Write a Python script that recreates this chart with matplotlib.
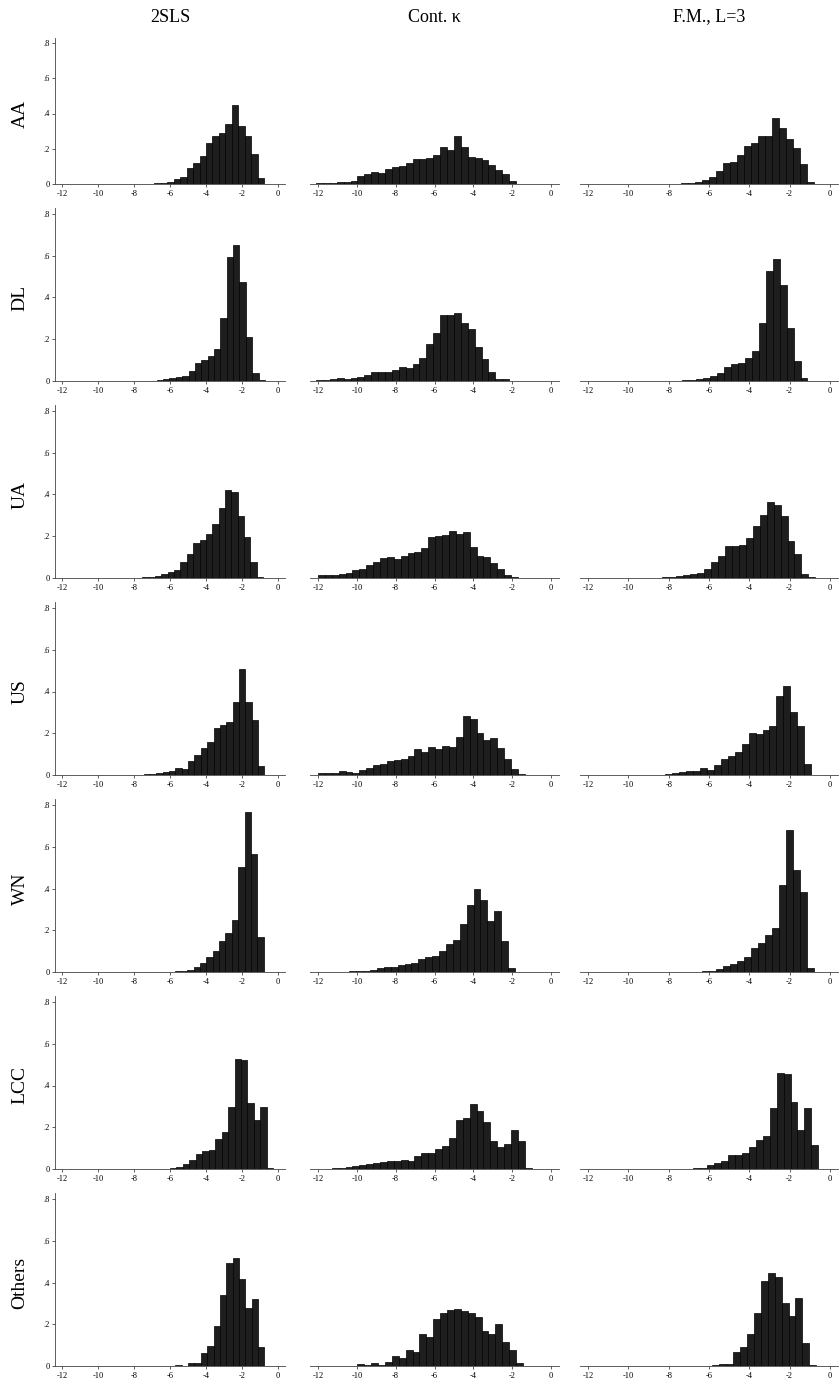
import matplotlib
matplotlib.use("Agg")
import matplotlib.pyplot as plt
import numpy as np

plt.rcParams["font.family"] = ["Liberation Serif", "DejaVu Serif"]

rows = ["AA", "DL", "UA", "US", "WN", "LCC", "Others"]
cols = ["2SLS", "Cont. \u03ba", "F.M., L=3"]

# bar heights (density), left to right, one list per panel
aa_2sls = [0.003, 0.005, 0.01, 0.03, 0.04, 0.09, 0.12, 0.16, 0.23, 0.27, 0.29, 0.34, 0.45, 0.33, 0.27, 0.17, 0.035]
aa_cont = [0.003, 0.005, 0.005, 0.01, 0.01, 0.015, 0.045, 0.055, 0.07, 0.065, 0.085, 0.095, 0.10, 0.12, 0.14,
           0.14, 0.15, 0.165, 0.21, 0.195, 0.27, 0.21, 0.155, 0.15, 0.135, 0.105, 0.08, 0.055, 0.015]
aa_fm = [0.001, 0.002, 0.003, 0.005, 0.01, 0.025, 0.04, 0.075, 0.12, 0.125, 0.165, 0.215, 0.23, 0.275, 0.27,
         0.375, 0.32, 0.255, 0.205, 0.115, 0.01]

dl_2sls = [0.003, 0.01, 0.015, 0.02, 0.025, 0.05, 0.085, 0.10, 0.12, 0.155, 0.30, 0.595, 0.65, 0.475, 0.21, 0.04, 0.003]
dl_cont = [0.003, 0.007, 0.01, 0.012, 0.01, 0.015, 0.02, 0.03, 0.045, 0.045, 0.045, 0.055, 0.065, 0.06, 0.08,
           0.11, 0.175, 0.23, 0.315, 0.315, 0.325, 0.28, 0.25, 0.165, 0.105, 0.045, 0.01, 0.01, 0.002]
dl_fm = [0.002, 0.005, 0.007, 0.01, 0.015, 0.025, 0.04, 0.065, 0.08, 0.085, 0.11, 0.145, 0.28, 0.525, 0.585,
         0.46, 0.255, 0.095, 0.015, 0.002]

ua_2sls = [0.002, 0.003, 0.005, 0.01, 0.02, 0.03, 0.04, 0.075, 0.115, 0.17, 0.18, 0.21, 0.26, 0.335, 0.42, 0.41,
           0.295, 0.195, 0.075, 0.003]
ua_cont = [0.015, 0.012, 0.012, 0.02, 0.025, 0.04, 0.045, 0.06, 0.075, 0.095, 0.10, 0.09, 0.105, 0.12, 0.125,
           0.145, 0.195, 0.20, 0.205, 0.225, 0.21, 0.22, 0.15, 0.105, 0.10, 0.07, 0.045, 0.015, 0.003]
ua_fm = [0.001, 0.002, 0.002, 0.003, 0.005, 0.008, 0.015, 0.02, 0.025, 0.045, 0.075, 0.105, 0.155, 0.155, 0.16,
         0.19, 0.25, 0.30, 0.365, 0.35, 0.295, 0.175, 0.115, 0.02, 0.003]

us_2sls = [0.002, 0.003, 0.005, 0.01, 0.015, 0.02, 0.035, 0.03, 0.065, 0.095, 0.13, 0.16, 0.225, 0.24, 0.255,
           0.35, 0.51, 0.35, 0.265, 0.045]
us_cont = [0.01, 0.008, 0.01, 0.02, 0.015, 0.01, 0.025, 0.035, 0.05, 0.055, 0.065, 0.07, 0.075, 0.09, 0.125,
           0.11, 0.135, 0.125, 0.14, 0.135, 0.18, 0.285, 0.27, 0.20, 0.17, 0.175, 0.13, 0.075, 0.03, 0.003]
us_fm = [0.002, 0.005, 0.01, 0.012, 0.02, 0.02, 0.035, 0.025, 0.05, 0.075, 0.09, 0.11, 0.15, 0.20, 0.195, 0.215,
         0.235, 0.38, 0.425, 0.30, 0.235, 0.055]

wn_2sls = [0.002, 0.003, 0.003, 0.01, 0.025, 0.045, 0.07, 0.10, 0.15, 0.185, 0.25, 0.505, 0.765, 0.565, 0.17]
wn_cont = [0.002, 0.001, 0.0, 0.002, 0.003, 0.003, 0.005, 0.01, 0.02, 0.022, 0.025, 0.035, 0.04, 0.045, 0.06,
           0.07, 0.075, 0.10, 0.135, 0.155, 0.23, 0.32, 0.40, 0.345, 0.245, 0.29, 0.15, 0.02]
wn_fm = [0.002, 0.002, 0.003, 0.005, 0.015, 0.03, 0.04, 0.055, 0.07, 0.115, 0.14, 0.175, 0.21, 0.415, 0.68, 0.49,
         0.385, 0.02]

lcc_2sls = [0.003, 0.01, 0.025, 0.045, 0.07, 0.085, 0.09, 0.145, 0.175, 0.295, 0.525, 0.52, 0.315, 0.235, 0.295, 0.003]
lcc_cont = [0.001, 0.002, 0.003, 0.005, 0.01, 0.015, 0.02, 0.025, 0.03, 0.035, 0.04, 0.04, 0.045, 0.04, 0.06,
            0.075, 0.075, 0.095, 0.11, 0.15, 0.235, 0.245, 0.31, 0.28, 0.225, 0.135, 0.105, 0.12, 0.185, 0.135, 0.003]
lcc_fm = [0.002, 0.003, 0.005, 0.02, 0.03, 0.04, 0.065, 0.065, 0.075, 0.105, 0.14, 0.16, 0.29, 0.46, 0.455, 0.32,
          0.185, 0.29, 0.115]

oth_2sls = [0.005, 0.0, 0.015, 0.015, 0.06, 0.095, 0.19, 0.34, 0.495, 0.515, 0.415, 0.28, 0.32, 0.09]
oth_cont = [0.0, 0.0, 0.002, 0.002, 0.0, 0.0, 0.01, 0.005, 0.012, 0.003, 0.02, 0.05, 0.04, 0.075, 0.065, 0.155,
            0.14, 0.225, 0.255, 0.27, 0.275, 0.265, 0.255, 0.235, 0.17, 0.155, 0.20, 0.115, 0.075, 0.015]
oth_fm = [0.002, 0.002, 0.005, 0.01, 0.01, 0.065, 0.09, 0.155, 0.255, 0.405, 0.445, 0.425, 0.30, 0.24, 0.325,
          0.11, 0.003]

heights = [
    [aa_2sls, aa_cont, aa_fm],
    [dl_2sls, dl_cont, dl_fm],
    [ua_2sls, ua_cont, ua_fm],
    [us_2sls, us_cont, us_fm],
    [wn_2sls, wn_cont, wn_fm],
    [lcc_2sls, lcc_cont, lcc_fm],
    [oth_2sls, oth_cont, oth_fm],
]

# left edge of the first bin, per row
start_2sls = [-6.87, -6.74, -7.9, -7.83, -6.1, -6.0, -5.7]
start_cont = [-12.1, -12.1, -12.0, -12.0, -11.8, -12.0, -12.1]
start_fm = [-8.06, -7.67, -9.35, -8.52, -7.02, -7.13, -6.54]
# bin widths, per row
width_2sls = [0.36, 0.355, 0.355, 0.355, 0.355, 0.36, 0.355]
width_cont = [0.355] * 7
width_fm = [0.345] * 7

starts = [start_2sls, start_cont, start_fm]
widths = [width_2sls, width_cont, width_fm]

xticks = [-12, -10, -8, -6, -4, -2, 0]
yticks = [0, 0.2, 0.4, 0.6, 0.8]
ytick_labels = ["0", ".2", ".4", ".6", ".8"]

# layout in pixels
W, H = 840, 1400
col_px = [(55.3, 284.7), (310.2, 558.8), (580.0, 838.0)]
base_px = [184, 381, 578, 775, 972, 1169, 1366]
unit_px = [176.25] + [208.75] * 6
YMAX = 0.83

fig = plt.figure(figsize=(W / 100, H / 100), dpi=100)
fig.patch.set_facecolor("white")

for r in range(7):
    top = base_px[r] - YMAX * unit_px[r]
    for c in range(3):
        l, rr = col_px[c]
        ax = fig.add_axes([l / W, 1 - base_px[r] / H, (rr - l) / W, (base_px[r] - top) / H])
        h = np.array(heights[r][c])
        x = starts[c][r] + widths[c][r] * np.arange(len(h))
        ax.bar(x, h, width=widths[c][r], align="edge", color="#1e1e1e",
               edgecolor="black", linewidth=0.5)
        ax.set_xlim(-12.4, 0.4)
        ax.set_ylim(0, YMAX)
        ax.set_xticks(xticks)
        ax.set_xticklabels([str(t) for t in xticks])
        for s in ["top", "right"]:
            ax.spines[s].set_visible(False)
        ax.spines["bottom"].set_linewidth(0.6)
        ax.spines["bottom"].set_color("#444444")
        ax.tick_params(axis="x", labelsize=6, length=2.5, width=0.6, pad=1.5, color="#444444")
        if c == 0:
            ax.set_yticks(yticks)
            ax.set_yticklabels(ytick_labels)
            ax.spines["left"].set_linewidth(0.6)
            ax.spines["left"].set_color("#444444")
            ax.tick_params(axis="y", labelsize=6, length=2.5, width=0.6, pad=1.5, color="#444444")
        else:
            ax.spines["left"].set_visible(False)
            ax.set_yticks([])
        ax.patch.set_alpha(0)

    fig.text(20 / W, 1 - (base_px[r] - 0.4 * unit_px[r]) / H, rows[r], rotation=90,
             ha="center", va="center", fontsize=14)

for c in range(3):
    l, rr = col_px[c]
    cx = (l + rr) / 2
    fig.text(cx / W, 1 - 17 / H, cols[c], ha="center", va="center", fontsize=13)

fig.savefig("out.png", dpi=100)
